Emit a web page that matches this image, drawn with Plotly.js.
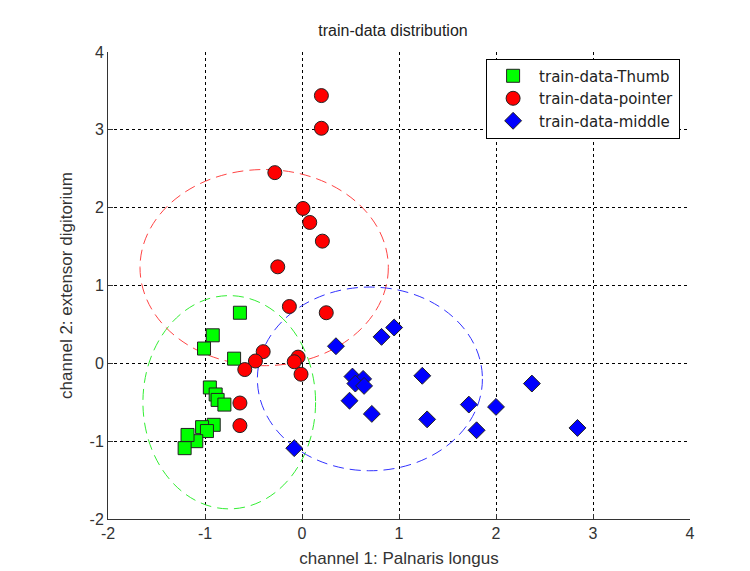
<!DOCTYPE html>
<html>
<head>
<meta charset="utf-8">
<script src="https://cdn.plot.ly/plotly-3.0.1.min.js"></script>
<style>html,body{margin:0;padding:0;background:#fff;}#chart{width:750px;height:571px;}</style>
</head>
<body>
<div id="chart"></div>
<script>
// Thumb (green squares)
const thumbX = [-0.64, -0.92, -1.01, -0.70, -0.95, -0.89, -0.87, -0.80, -0.91, -1.03, -0.98, -1.09, -1.18, -1.21];
const thumbY = [0.65, 0.36, 0.19, 0.06, -0.31, -0.40, -0.47, -0.53, -0.79, -0.82, -0.87, -1.00, -0.92, -1.09];
// Pointer (red circles)
const pointerX = [0.20, 0.20, -0.28, 0.01, 0.08, 0.21, -0.25, -0.13, 0.25, -0.40, -0.48, -0.59, -0.04, -0.08, -0.01, -0.64, -0.64];
const pointerY = [3.44, 3.02, 2.45, 1.99, 1.81, 1.57, 1.24, 0.73, 0.65, 0.15, 0.03, -0.08, 0.08, 0.02, -0.14, -0.51, -0.80];
// Middle (blue diamonds)
const middleX = [0.35, 0.82, 0.95, 0.52, 0.63, 0.55, 0.64, 0.49, 0.72, -0.08, 1.24, 1.29, 1.72, 1.80, 2.00, 2.37, 2.84];
const middleY = [0.22, 0.34, 0.46, -0.17, -0.20, -0.26, -0.29, -0.48, -0.65, -1.09, -0.16, -0.72, -0.53, -0.86, -0.56, -0.26, -0.83];
// Class ellipses: center x, center y, radius x, radius y
const ellipseCX = [-0.75, -0.39, 0.70];
const ellipseCY = [-0.50, 1.23, -0.20];
const ellipseRX = [0.89, 1.28, 1.16];
const ellipseRY = [1.37, 1.26, 1.18];
const ellipseColors = ['#33ee33', '#ff4444', '#3333ff'];

const seriesNames = ['train-data-Thumb', 'train-data-pointer', 'train-data-middle'];
const tickVals = [-2, -1, 0, 1, 2, 3, 4];

const mk = (sym, col, size) => ({symbol: sym, color: col, size: size, line: {color: '#222', width: 1}});

const traces = [
  {x: thumbX, y: thumbY, type: 'scatter', mode: 'markers', name: seriesNames[0], marker: mk('square', '#00ff00', 13)},
  {x: pointerX, y: pointerY, type: 'scatter', mode: 'markers', name: seriesNames[1], marker: mk('circle', '#ff0000', 14)},
  {x: middleX, y: middleY, type: 'scatter', mode: 'markers', name: seriesNames[2], marker: mk('diamond', '#0000ff', 13)}
];

const shapes = ellipseCX.map((cx, i) => ({
  type: 'circle', xref: 'x', yref: 'y', layer: 'between',
  x0: cx - ellipseRX[i], x1: cx + ellipseRX[i],
  y0: ellipseCY[i] - ellipseRY[i], y1: ellipseCY[i] + ellipseRY[i],
  line: {color: ellipseColors[i], width: 1, dash: '11px,6px'}
}));

const axisCommon = {
  tickvals: tickVals, ticktext: tickVals.map(String),
  showgrid: true, gridcolor: '#000', gridwidth: 1, griddash: '3px,3px',
  zeroline: false, showline: true, linecolor: '#333', linewidth: 1,
  ticks: 'inside', ticklen: 5, tickcolor: '#333',
  tickfont: {family: 'Liberation Sans, Arial, sans-serif', size: 16, color: '#333'}
};

const layout = {
  width: 750, height: 571,
  margin: {l: 108, r: 60, t: 52, b: 52},
  paper_bgcolor: '#fff', plot_bgcolor: '#fff',
  font: {family: 'Liberation Sans, Arial, sans-serif', color: '#222'},
  title: {text: 'train-data distribution', x: 0.524, xanchor: 'center', y: 0.947, yanchor: 'middle',
          font: {size: 16, color: '#222'}},
  xaxis: Object.assign({}, axisCommon, {range: [-2, 4],
          title: {text: 'channel 1: Palnaris longus', font: {size: 17, color: '#333'}, standoff: 10}}),
  yaxis: Object.assign({}, axisCommon, {range: [-2, 4],
          title: {text: 'channel 2: extensor digitorium', font: {size: 17, color: '#333'}, standoff: 12}}),
  legend: {x: 0.983, xanchor: 'right', y: 0.986, yanchor: 'top',
           bgcolor: '#fff', bordercolor: '#000', borderwidth: 1, itemwidth: 42,
           font: {family: 'DejaVu Sans, sans-serif', size: 15, color: '#222'}},
  shapes: shapes,
  showlegend: true
};

Plotly.newPlot('chart', traces, layout, {displayModeBar: false, staticPlot: true});
</script>
</body>
</html>
